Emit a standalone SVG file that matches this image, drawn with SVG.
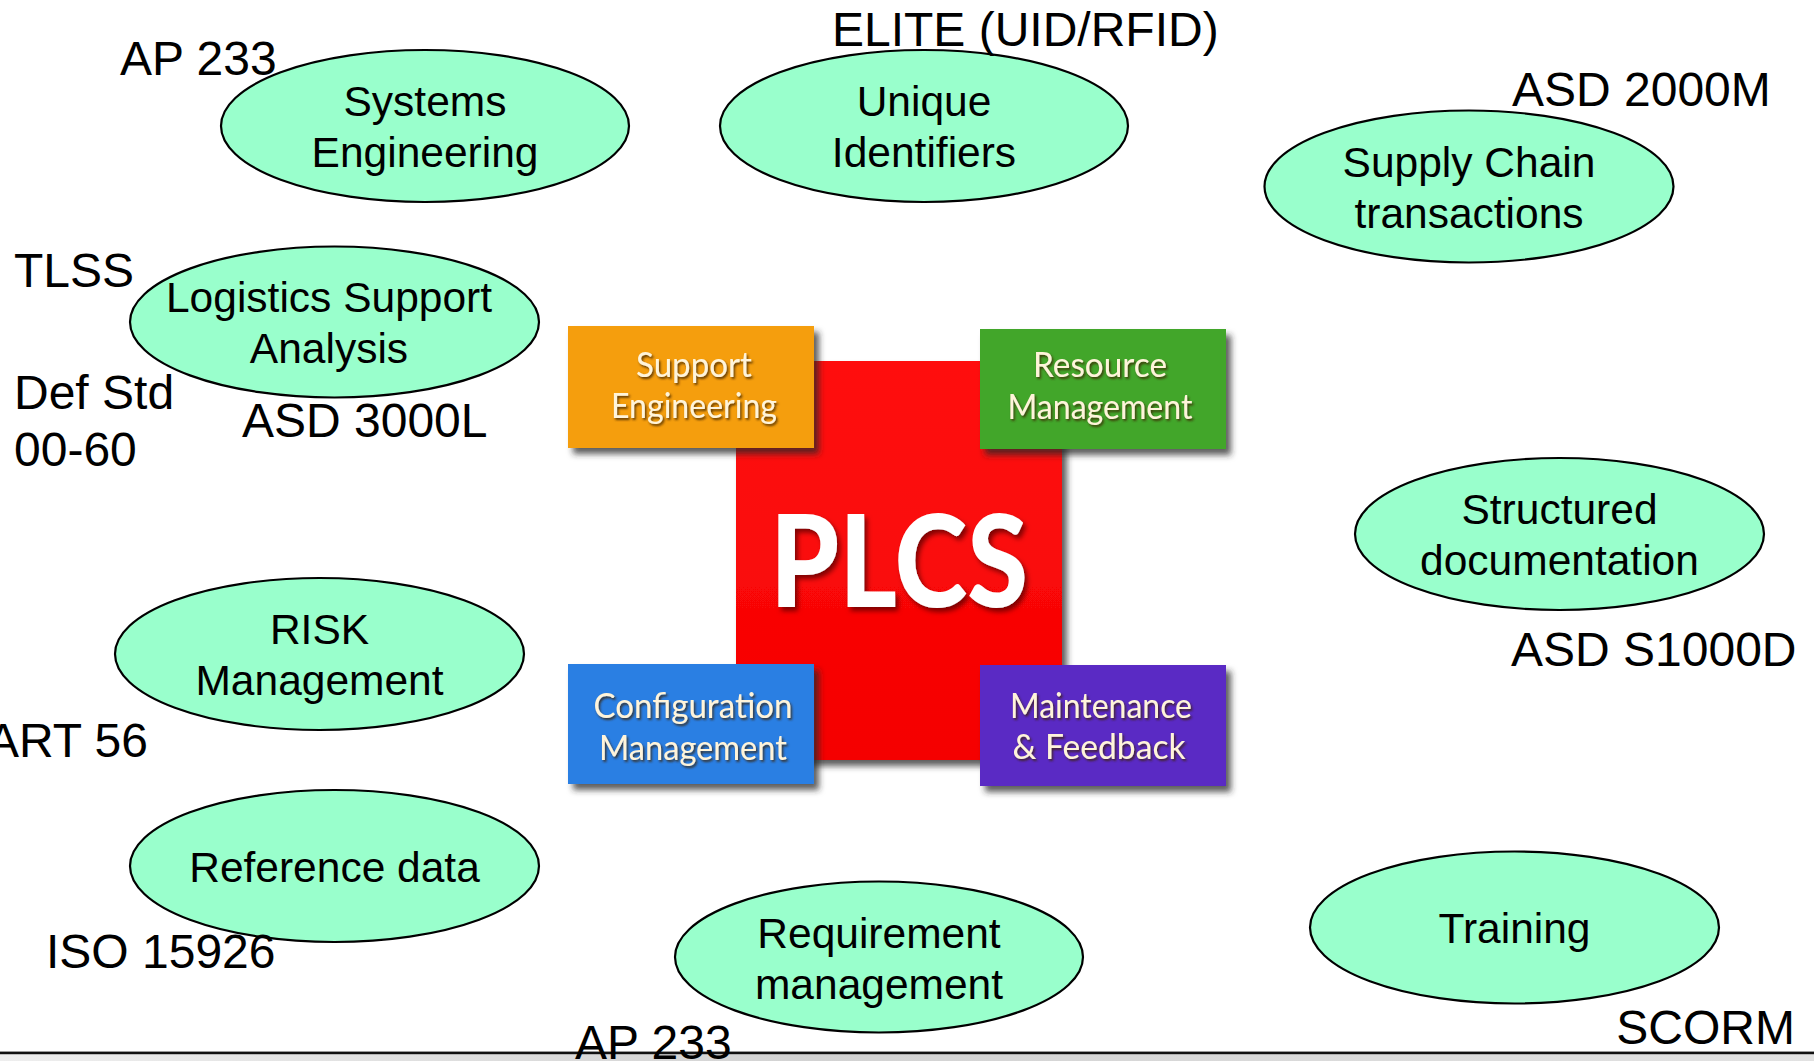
<svg xmlns="http://www.w3.org/2000/svg" width="1814" height="1061" viewBox="0 0 1814 1061">
<defs>
<style>
.ell{fill:#99FFCC;stroke:#000;stroke-width:2.2}
.et{font-family:"Liberation Sans",Arial,sans-serif;font-size:42.5px;fill:#000;text-anchor:middle}
.lb{font-family:"Liberation Sans",Arial,sans-serif;font-size:48px;fill:#000}
.bt{font-family:Lato,"Open Sans",sans-serif;font-size:35px;fill:#FFF4DA;text-anchor:middle;filter:url(#tsh)}
.box{filter:url(#bsh)}
</style>
<filter id="bsh" x="-10%" y="-10%" width="130%" height="130%">
<feDropShadow dx="5" dy="6" stdDeviation="3" flood-color="#2a2a2a" flood-opacity="0.75"/>
</filter>
<filter id="tsh" x="-10%" y="-20%" width="130%" height="150%">
<feDropShadow dx="1.5" dy="2" stdDeviation="1.2" flood-color="#3a2000" flood-opacity="0.8"/>
</filter>
<filter id="psh" x="-10%" y="-10%" width="130%" height="130%">
<feDropShadow dx="3" dy="4" stdDeviation="2.5" flood-color="#600000" flood-opacity="0.8"/>
</filter>
<linearGradient id="band" x1="0" y1="0" x2="1" y2="0">
<stop offset="0" stop-color="#eeeeee"/>
<stop offset="0.45" stop-color="#d2d2d2"/>
<stop offset="1" stop-color="#e2e2e2"/>
</linearGradient>
<linearGradient id="redg" x1="0" y1="0" x2="0" y2="1">
<stop offset="0" stop-color="#ff1010"/>
<stop offset="1" stop-color="#f50000"/>
</linearGradient>
</defs>
<rect width="1814" height="1061" fill="#fff"/>

<g id="plcs">
<rect x="736" y="361" width="326" height="399" fill="url(#redg)" class="box"/>
<text x="899" y="607" font-family="Lato,'Open Sans',sans-serif" font-weight="900" font-size="128" fill="#fff" text-anchor="middle" textLength="258" lengthAdjust="spacingAndGlyphs" filter="url(#psh)">PLCS</text>
</g>
<g id="support-engineering">
<rect x="568" y="326" width="246" height="122" fill="#F59E0B" class="box"/>
<text class="bt" x="694" y="377" textLength="116" lengthAdjust="spacingAndGlyphs">Support</text>
<text class="bt" x="694" y="418" textLength="166" lengthAdjust="spacingAndGlyphs">Engineering</text>
</g>
<g id="resource-management">
<rect x="980" y="329" width="246" height="120" fill="#42A62C" class="box"/>
<text class="bt" x="1100" y="377" textLength="134" lengthAdjust="spacingAndGlyphs">Resource</text>
<text class="bt" x="1100" y="419" textLength="185" lengthAdjust="spacingAndGlyphs">Management</text>
</g>
<g id="configuration-management">
<rect x="568" y="664" width="246" height="120" fill="#2B7FE3" class="box"/>
<text class="bt" x="693" y="718" textLength="199" lengthAdjust="spacingAndGlyphs">Configuration</text>
<text class="bt" x="693" y="760" textLength="188" lengthAdjust="spacingAndGlyphs">Management</text>
</g>
<g id="maintenance-feedback">
<rect x="980" y="665" width="246" height="121" fill="#5A2BC4" class="box"/>
<text class="bt" x="1101" y="718" textLength="182" lengthAdjust="spacingAndGlyphs">Maintenance</text>
<text class="bt" x="1099" y="759" textLength="173" lengthAdjust="spacingAndGlyphs">&amp; Feedback</text>
</g>

<g id="systems-engineering">
<ellipse class="ell" cx="425" cy="126" rx="204" ry="76"/>
<text class="et" x="425" y="116">Systems</text>
<text class="et" x="425" y="167">Engineering</text>
</g>
<g id="unique-identifiers">
<ellipse class="ell" cx="924" cy="126" rx="204" ry="76"/>
<text class="et" x="924" y="116">Unique</text>
<text class="et" x="924" y="167">Identifiers</text>
</g>
<g id="supply-chain">
<ellipse class="ell" cx="1469" cy="186.5" rx="204.5" ry="76"/>
<text class="et" x="1469" y="177">Supply Chain</text>
<text class="et" x="1469" y="228">transactions</text>
</g>
<g id="logistics-support">
<ellipse class="ell" cx="334.5" cy="322" rx="204.5" ry="75.5"/>
<text class="et" x="329" y="312">Logistics Support</text>
<text class="et" x="329" y="363">Analysis</text>
</g>
<g id="structured-documentation">
<ellipse class="ell" cx="1559.5" cy="534" rx="204.5" ry="76"/>
<text class="et" x="1559.5" y="524">Structured</text>
<text class="et" x="1559.5" y="575">documentation</text>
</g>
<g id="risk-management">
<ellipse class="ell" cx="319.5" cy="654" rx="204.5" ry="76"/>
<text class="et" x="319.5" y="644">RISK</text>
<text class="et" x="319.5" y="695">Management</text>
</g>
<g id="reference-data">
<ellipse class="ell" cx="334.5" cy="866" rx="204.5" ry="76"/>
<text class="et" x="334.5" y="882">Reference data</text>
</g>
<g id="requirement-management">
<ellipse class="ell" cx="879" cy="957" rx="204" ry="75.5"/>
<text class="et" x="879" y="947.5">Requirement</text>
<text class="et" x="879" y="998.5">management</text>
</g>
<g id="training">
<ellipse class="ell" cx="1514.5" cy="927.5" rx="204.5" ry="76"/>
<text class="et" x="1514.5" y="943">Training</text>
</g>

<g id="connectors"/>

<g id="bottom-bar">
<rect x="0" y="1051" width="1814" height="1" fill="#9a9a9a"/>
<rect x="0" y="1052" width="1814" height="2.5" fill="#111"/>
<rect x="0" y="1054.5" width="1814" height="6.5" fill="url(#band)"/>
</g>

<g id="labels">
<text class="lb" x="120" y="75">AP 233</text>
<text class="lb" x="832" y="46">ELITE (UID/RFID)</text>
<text class="lb" x="1512" y="106">ASD 2000M</text>
<text class="lb" x="14" y="287">TLSS</text>
<text class="lb" x="14" y="409">Def Std</text>
<text class="lb" x="14" y="466">00-60</text>
<text class="lb" x="242" y="437">ASD 3000L</text>
<text class="lb" x="1511" y="666">ASD S1000D</text>
<text class="lb" x="148" y="757" text-anchor="end">ART 56</text>
<text class="lb" x="46" y="968">ISO 15926</text>
<text class="lb" x="575" y="1059">AP 233</text>
<text class="lb" x="1795" y="1044" text-anchor="end">SCORM</text>
</g>
</svg>
